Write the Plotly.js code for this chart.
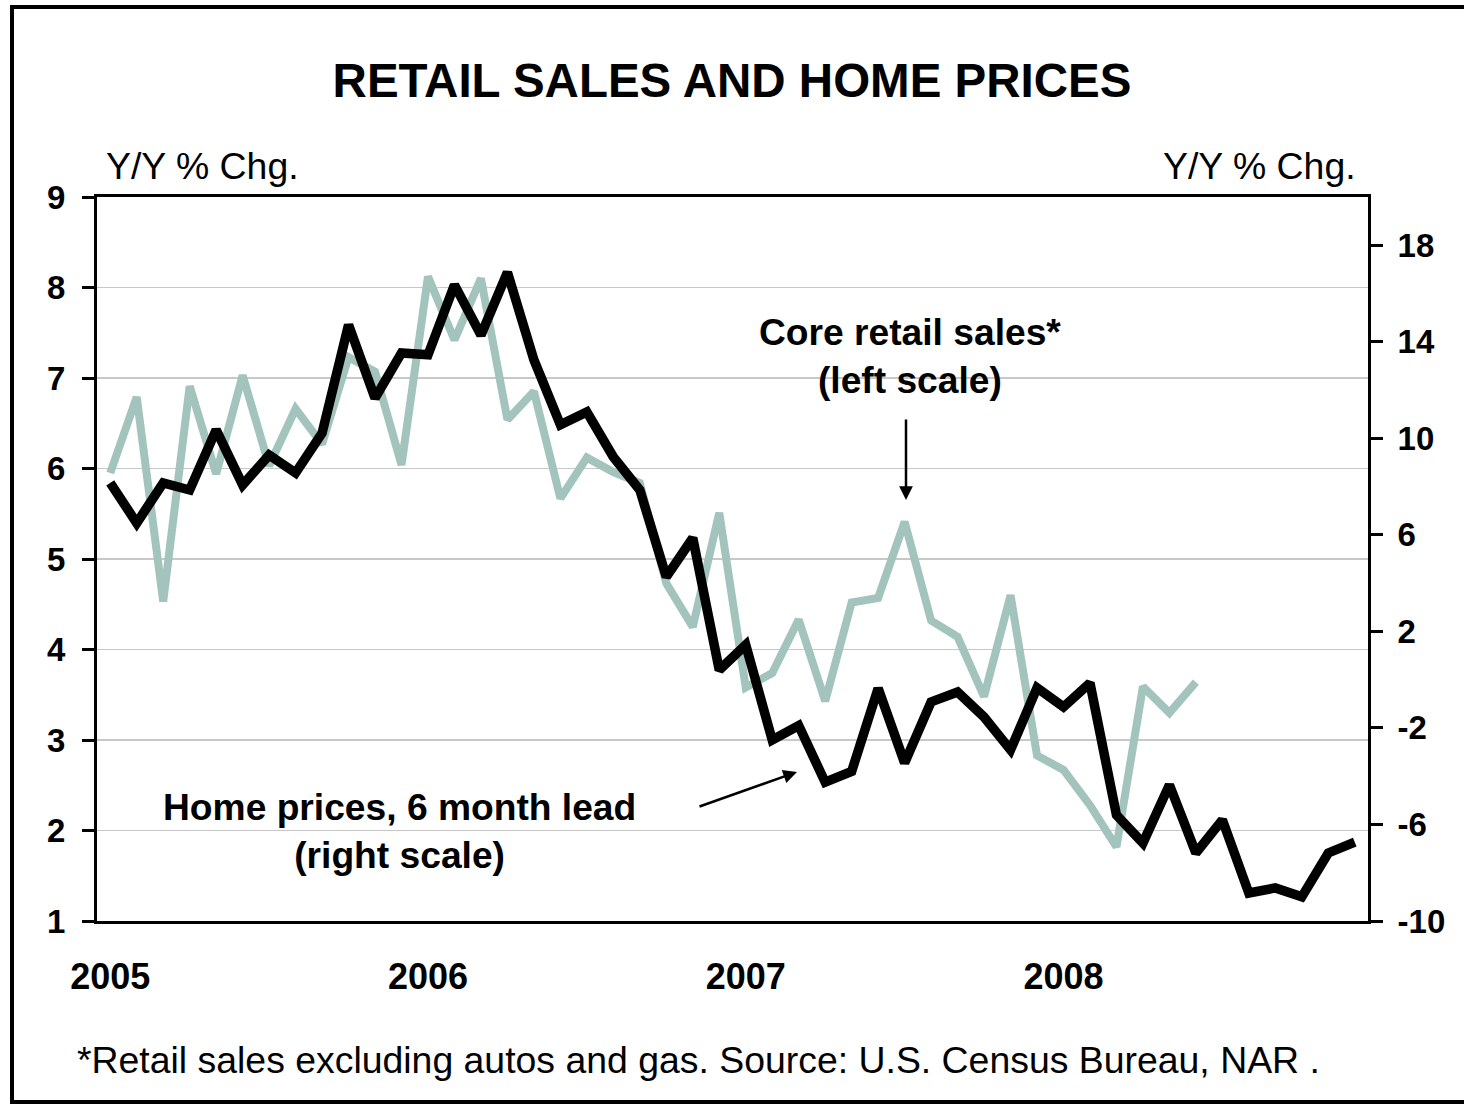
<!DOCTYPE html>
<html>
<head>
<meta charset="utf-8">
<script src="https://cdn.plot.ly/plotly-3.0.1.min.js"></script>
<style>
html,body{margin:0;padding:0;background:#fff;overflow:hidden;}
#wrap{position:relative;width:1464px;height:1104px;}
#frame{position:absolute;left:10px;top:5px;width:1500px;height:1099px;box-sizing:border-box;border:4px solid #000;pointer-events:none;z-index:5;}
#chart{position:absolute;left:0;top:0;width:1464px;height:1104px;}
</style>
</head>
<body>
<div id="wrap"><div id="chart"></div><div id="frame"></div></div>
<script>
// Months Jan 2005 .. Dec 2008
var months = [];
for (var yr = 2005; yr <= 2008; yr++) {
  for (var m = 1; m <= 12; m++) months.push(yr + '-' + (m < 10 ? '0' + m : m));
}
var yearTicks = ['2005-01', '2006-01', '2007-01', '2008-01'];
var yearLabels = ['2005', '2006', '2007', '2008'];

// Core retail sales, Y/Y % chg (left scale), Jan 2005 - Jun 2008
var coreRetail = [5.95, 6.79, 4.53, 6.91, 5.94, 7.03, 6.03, 6.66, 6.27, 7.23, 7.07, 6.04,
                  8.12, 7.42, 8.10, 6.54, 6.85, 5.67, 6.12, 5.96, 5.84, 4.73, 4.25, 5.51,
                  3.58, 3.74, 4.33, 3.43, 4.52, 4.57, 5.41, 4.32, 4.14, 3.48, 4.60, 2.83,
                  2.67, 2.28, 1.82, 3.59, 3.30, 3.64];
// Home prices, 6 month lead, Y/Y % chg (right scale), Jan 2005 - Dec 2008
var homePrices = [8.15, 6.49, 8.15, 7.86, 10.35, 8.07, 9.31, 8.57, 10.22, 14.70, 11.67, 13.54,
                  13.46, 16.36, 14.28, 16.88, 13.25, 10.56, 11.09, 9.23, 7.86, 4.26, 5.87, 0.40,
                  1.44, -2.50, -1.90, -4.25, -3.80, -0.36, -3.45, -0.92, -0.51, -1.55, -2.91, -0.34,
                  -1.13, -0.14, -5.61, -6.77, -4.36, -7.18, -5.81, -8.84, -8.63, -9.00, -7.18, -6.73];

var leftTicks = [1, 2, 3, 4, 5, 6, 7, 8, 9];
var rightTicks = [-10, -6, -2, 2, 6, 10, 14, 18];
var rightTickLabels = ['-10', '-6', '-2', '2', '6', '10', '14', '18'];

var FONT = 'Liberation Sans, Arial, Helvetica, sans-serif';

var traces = [
  {
    x: months.slice(0, coreRetail.length), y: coreRetail, type: 'scatter', mode: 'lines',
    line: {color: '#a2c4bd', width: 8, shape: 'linear'}, yaxis: 'y', hoverinfo: 'skip'
  },
  {
    x: months, y: homePrices, type: 'scatter', mode: 'lines',
    line: {color: '#000000', width: 9.5}, yaxis: 'y2', hoverinfo: 'skip'
  }
];

var tickFont = {family: FONT, size: 33, color: '#000', weight: 'bold'};
var yearFont = {family: FONT, size: 36, color: '#000', weight: 'bold'};

var layout = {
  width: 1464, height: 1104,
  margin: {l: 97, r: 96, t: 197, b: 183, pad: 0},
  paper_bgcolor: '#fff', plot_bgcolor: '#fff',
  showlegend: false,
  title: {
    text: '<b>RETAIL SALES AND HOME PRICES</b>',
    font: {family: FONT, size: 47.5, color: '#000'},
    x: 0.5, xanchor: 'center', y: 1 - 80 / 1104, yanchor: 'middle', xref: 'container', yref: 'container'
  },
  xaxis: {
    type: 'category', range: [-0.5, 47.5],
    tickvals: yearTicks, ticktext: yearLabels, tickfont: yearFont,
    ticks: '', showgrid: false, zeroline: false,
    showline: true, linecolor: '#000', linewidth: 3, mirror: true,
    ticklabelstandoff: 22, fixedrange: true
  },
  yaxis: {
    range: [1, 9], tickvals: leftTicks, tickfont: tickFont,
    ticks: 'outside', ticklen: 12, tickwidth: 3, tickcolor: '#000',
    showline: true, linecolor: '#000', linewidth: 3,
    showgrid: true, gridcolor: '#c8c8c8', gridwidth: 1.2, zeroline: false,
    ticklabelstandoff: 10, fixedrange: true
  },
  yaxis2: {
    range: [-10, 20], tickvals: rightTicks, ticktext: rightTickLabels, tickfont: tickFont,
    overlaying: 'y', side: 'right',
    ticks: 'outside', ticklen: 12, tickwidth: 3, tickcolor: '#000',
    showline: true, linecolor: '#000', linewidth: 3,
    showgrid: false, zeroline: false, ticklabelstandoff: 8, fixedrange: true
  },
  annotations: [
    {xref: 'paper', yref: 'paper', x: (104 - 97) / 1271, y: (921 - 166) / 724, xanchor: 'left', yanchor: 'middle',
     text: 'Y/Y % Chg.', showarrow: false, font: {family: FONT, size: 37.4, color: '#000'}},
    {xref: 'paper', yref: 'paper', x: (1358 - 97) / 1271, y: (921 - 166) / 724, xanchor: 'right', yanchor: 'middle',
     text: 'Y/Y % Chg.', showarrow: false, font: {family: FONT, size: 37.4, color: '#000'}},
    {xref: 'paper', yref: 'paper', x: (910 - 97) / 1271, y: (921 - 356) / 724, xanchor: 'center', yanchor: 'middle',
     text: '<b>Core retail sales*</b><br><b>(left scale)</b>', showarrow: false, align: 'center',
     font: {family: FONT, size: 37.2, color: '#000'}},
    {xref: 'paper', yref: 'paper', x: (399 - 97) / 1271, y: (921 - 831) / 724, xanchor: 'center', yanchor: 'middle',
     text: '<b>Home prices, 6 month lead</b><br><b>(right scale)</b>', showarrow: false, align: 'center',
     font: {family: FONT, size: 37.2, color: '#000'}},
    {xref: 'paper', yref: 'paper', x: (906 - 97) / 1271, y: (921 - 500) / 724, text: '', showarrow: true,
     ax: 0, ay: -82, axref: 'pixel', ayref: 'pixel', arrowhead: 2, arrowsize: 1.1, arrowwidth: 2.5, arrowcolor: '#000', standoff: 0, startstandoff: 0},
    {xref: 'paper', yref: 'paper', x: (797 - 97) / 1271, y: (921 - 772) / 724, text: '', showarrow: true,
     ax: -99, ay: 35, axref: 'pixel', ayref: 'pixel', arrowhead: 2, arrowsize: 1.1, arrowwidth: 2.5, arrowcolor: '#000', standoff: 0, startstandoff: 0},
    {xref: 'paper', yref: 'paper', x: (75 - 97) / 1271, y: (921 - 1060) / 724, xanchor: 'left', yanchor: 'middle',
     text: '*Retail sales excluding autos and gas. Source: U.S. Census Bureau, NAR .', showarrow: false,
     font: {family: FONT, size: 37.4, color: '#000'}}
  ]
};

Plotly.newPlot('chart', traces, layout, {displayModeBar: false, staticPlot: true});
</script>
</body>
</html>
